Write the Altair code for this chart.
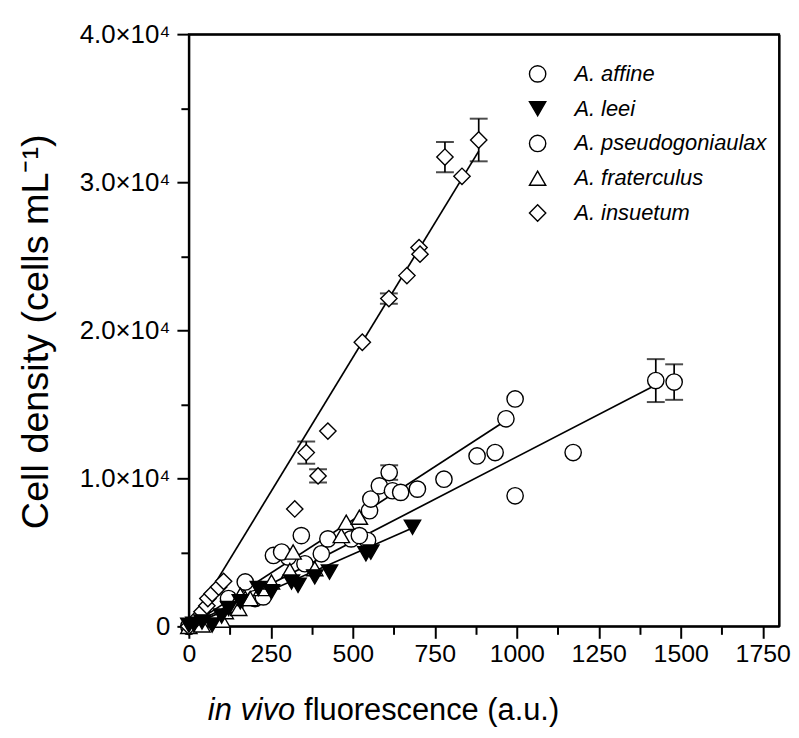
import altair as alt
import pandas as pd

# ---------------- data ----------------
species = ["A. affine", "A. leei", "A. pseudogoniaulax", "A. fraterculus", "A. insuetum"]
shapes = ["circle", "triangle-down", "circle", "triangle-up", "diamond"]
fills = ["white", "black", "white", "white", "white"]

aff_x = [0, 141, 202, 227, 303, 354, 404, 495, 545, 697, 778, 995, 1172, 1424, 1480]
aff_y = [0, 1430, 1880, 1990, 4680, 4230, 4900, 5910, 5800, 9270, 9940, 8820, 11740, 16600, 16500]

leei_x = [0, 15, 40, 71, 100, 121, 157, 212, 252, 313, 333, 384, 429, 540, 555, 682]
leei_y = [80, 150, 300, 90, 700, 1210, 1660, 2550, 2330, 3000, 2770, 3340, 3670, 4900, 5020, 6700]

pse_x = [121, 172, 258, 283, 343, 424, 520, 551, 555, 581, 611, 621, 646, 879, 934, 967, 995]
pse_y = [1880, 3000, 4790, 5020, 6130, 5910, 6130, 7810, 8600, 9490, 10390, 9160, 9050, 11510, 11740, 14020, 15360]

fra_x = [0, 40, 101, 111, 152, 157, 172, 187, 222, 252, 308, 318, 384, 465, 480, 520]
fra_y = [0, 100, 420, 990, 1210, 2100, 1880, 1880, 2550, 3000, 3780, 5020, 3900, 6130, 7030, 7370]

ins_x = [0, 25, 40, 55, 58, 71, 91, 106, 323, 358, 394, 424, 529, 610, 665, 702, 705, 781, 833, 884]
ins_y = [0, 540, 990, 1390, 1880, 2210, 2660, 3040, 7930, 11735, 10160, 13190, 19190, 22140, 23690, 25585, 25140, 31700, 30400, 32850]

# error bars (x, y, +/- error)
eb_x = [358, 394, 610, 781, 884, 611, 1424, 1480]
eb_y = [11735, 10160, 22140, 31700, 32850, 10390, 16600, 16500]
eb_e = [750, 450, 350, 1020, 1440, 490, 1450, 1200]

# regression lines (start / end)
line_names = ["insuetum", "pseudogoniaulax", "affine", "leei"]
line_x0 = [0, 0, 0, 0]
line_y0 = [0, 0, 0, 0]
line_x1 = [884, 967, 1424, 682]
line_y1 = [32100, 13900, 16300, 6650]

x_ticks = [0, 250, 500, 750, 1000, 1250, 1500, 1750]
x_minor = [125, 375, 625, 875, 1125, 1375, 1625]
y_ticks = [0, 10000, 20000, 30000, 40000]
y_minor = [5000, 15000, 25000, 35000]

# ---------------- tables ----------------
# drawing order: open symbols first, filled A. leei triangles on top
draw_order = [0, 2, 3, 4, 1]
all_x = [aff_x, leei_x, pse_x, fra_x, ins_x]
all_y = [aff_y, leei_y, pse_y, fra_y, ins_y]
rows = []
for i in draw_order:
    for xv, yv in zip(all_x[i], all_y[i]):
        rows.append({"species": species[i], "x": xv, "y": yv})
pts = pd.DataFrame(rows)

eb = pd.DataFrame({"x": eb_x, "lo": [y - e for y, e in zip(eb_y, eb_e)], "hi": [y + e for y, e in zip(eb_y, eb_e)]})

lrows = []
for n, a, b, c, d in zip(line_names, line_x0, line_y0, line_x1, line_y1):
    lrows.append({"line": n, "x": a, "y": b})
    lrows.append({"line": n, "x": c, "y": d})
lines = pd.DataFrame(lrows)

FONT = "Liberation Sans"
xscale = alt.Scale(domain=[0, 1800], nice=False, zero=False)
yscale = alt.Scale(domain=[0, 40000], nice=False, zero=False)

x_axis = alt.Axis(values=x_ticks, orient="bottom", title=None, grid=False, tickSize=12, tickWidth=2,
                  tickColor="black", domainColor="black", domainWidth=2, labelFont=FONT,
                  labelFontSize=25, labelColor="black", labelPadding=3, labelFlush=False,
                  labelOverlap=False, format="d")
y_axis = alt.Axis(values=y_ticks, orient="left", grid=False, tickSize=12, tickWidth=2,
                  tickColor="black", domainColor="black", domainWidth=2, labelFont=FONT,
                  labelFontSize=26, labelColor="black", labelPadding=7, labelOverlap=False,
                  labelExpr="datum.value == 0 ? '0' : format(datum.value/10000, '.1f') + '×10⁴'",
                  title="Cell density (cells mL⁻¹)", titleFont=FONT, titleFontSize=38,
                  titleFontWeight="normal", titleColor="black", titleX=-153, titleY=299,
                  titleAngle=-90, titleAlign="center", titleBaseline="middle")
x_minor_axis = alt.Axis(values=x_minor, orient="bottom", title=None, labels=False, domain=False,
                        grid=False, tickSize=8, tickWidth=2, tickColor="black")
y_minor_axis = alt.Axis(values=y_minor, orient="left", title=None, labels=False, domain=False,
                        grid=False, tickSize=8, tickWidth=2, tickColor="black")
x_top_axis = alt.Axis(orient="top", title=None, labels=False, ticks=False, grid=False,
                      domain=True, domainColor="black", domainWidth=2)
y_right_axis = alt.Axis(orient="right", title=None, labels=False, ticks=False, grid=False,
                        domain=True, domainColor="black", domainWidth=2)

line_layer = alt.Chart(lines).mark_line(color="black", strokeWidth=1.7).encode(
    x=alt.X("x:Q", scale=xscale, axis=x_axis),
    y=alt.Y("y:Q", scale=yscale, axis=y_axis),
    detail="line:N",
)

eb_layer = alt.Chart(eb).mark_rule(color="black", strokeWidth=1.7).encode(
    x=alt.X("x:Q", scale=xscale, axis=x_minor_axis),
    y=alt.Y("lo:Q", scale=yscale, axis=y_minor_axis),
    y2="hi:Q",
)
cap_lo = alt.Chart(eb).mark_tick(color="black", orient="horizontal", size=18, thickness=2).encode(
    x=alt.X("x:Q", scale=xscale, axis=x_top_axis),
    y=alt.Y("lo:Q", scale=yscale, axis=y_right_axis),
)
cap_hi = alt.Chart(eb).mark_tick(color="black", orient="horizontal", size=18, thickness=2).encode(
    x=alt.X("x:Q", scale=xscale, axis=None),
    y=alt.Y("hi:Q", scale=yscale, axis=None),
)

legend = alt.Legend(title=None, orient="none", legendX=340, legendY=29, labelFont=FONT,
                    labelFontStyle="italic", labelFontSize=22, labelColor="black", labelLimit=400,
                    symbolSize=270, symbolStrokeWidth=1.4,
                    rowPadding=12, labelOffset=26, padding=0)

pt_layer = alt.Chart(pts).mark_point(filled=True, size=270, strokeWidth=1.4, opacity=1).encode(
    x=alt.X("x:Q", scale=xscale, axis=None),
    y=alt.Y("y:Q", scale=yscale, axis=None),
    shape=alt.Shape("species:N", scale=alt.Scale(domain=species, range=shapes), legend=legend),
    fill=alt.Fill("species:N", scale=alt.Scale(domain=species, range=fills), legend=legend),
    stroke=alt.Stroke("species:N", scale=alt.Scale(domain=species, range=["black"] * 5), legend=legend),
)

t1 = alt.Chart(pd.DataFrame({"t": ["in vivo"]})).mark_text(
    font=FONT, fontSize=31, fontStyle="italic", align="right", baseline="alphabetic", color="black"
).encode(x=alt.value(107), y=alt.value(690), text="t:N")
t2 = alt.Chart(pd.DataFrame({"t": ["fluorescence (a.u.)"]})).mark_text(
    font=FONT, fontSize=31, align="left", baseline="alphabetic", color="black"
).encode(x=alt.value(116), y=alt.value(690), text="t:N")

chart = alt.layer(line_layer, eb_layer, cap_lo, cap_hi, pt_layer, t1, t2).resolve_axis(
    x="independent", y="independent"
).properties(
    width=594, height=596,
    autosize=alt.AutoSizeParams(type="none"),
    padding={"left": 182, "top": 24, "right": 12, "bottom": 104},
).configure_view(stroke="black", strokeWidth=2)

chart.save("out.html", embed_options={"renderer": "svg", "actions": False})
